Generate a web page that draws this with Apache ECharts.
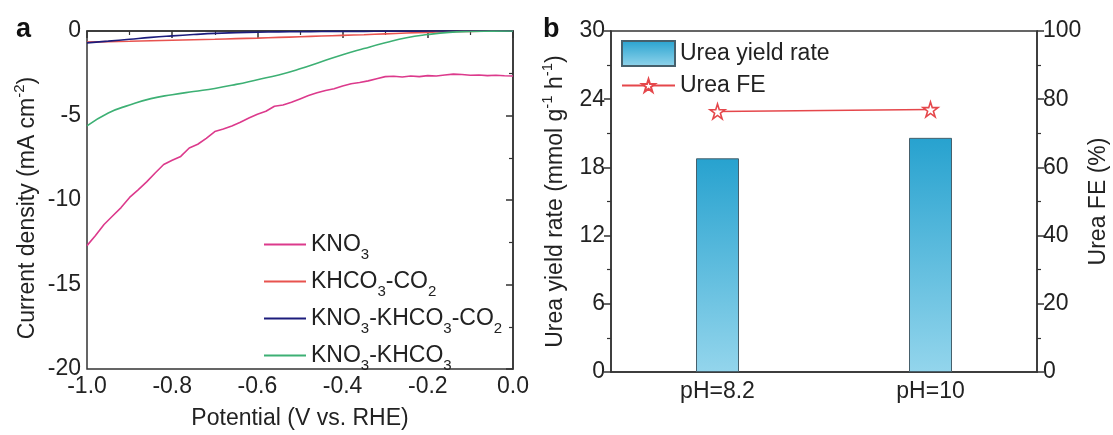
<!DOCTYPE html>
<html><head><meta charset="utf-8">
<script src="https://cdn.jsdelivr.net/npm/echarts@6/dist/echarts.min.js"></script>
<style>html,body{margin:0;padding:0;background:#fff}#c{width:1113px;height:435px}</style>
</head><body><div id="c"></div>
<script>
// ---- Panel a data ----
const potential = [-1.00,-0.98,-0.96,-0.94,-0.92,-0.90,-0.88,-0.86,-0.84,-0.82,-0.80,-0.78,-0.76,-0.74,-0.72,-0.70,-0.68,-0.66,-0.64,-0.62,-0.60,-0.58,-0.56,-0.54,-0.52,-0.50,-0.48,-0.46,-0.44,-0.42,-0.40,-0.38,-0.36,-0.34,-0.32,-0.30,-0.28,-0.26,-0.24,-0.22,-0.20,-0.18,-0.16,-0.14,-0.12,-0.10,-0.08,-0.06,-0.04,-0.02,0.00];
const kno3 = [-12.7,-12.1,-11.45,-10.95,-10.45,-9.85,-9.4,-8.93,-8.4,-7.9,-7.65,-7.42,-6.92,-6.7,-6.35,-5.95,-5.8,-5.62,-5.4,-5.15,-4.92,-4.75,-4.45,-4.38,-4.22,-4.02,-3.82,-3.66,-3.52,-3.42,-3.25,-3.12,-3.05,-2.95,-2.82,-2.7,-2.68,-2.72,-2.66,-2.7,-2.64,-2.66,-2.6,-2.55,-2.57,-2.62,-2.6,-2.64,-2.62,-2.65,-2.66];
const potentialCoarse = [-1.00,-0.95,-0.90,-0.85,-0.80,-0.75,-0.70,-0.65,-0.60,-0.55,-0.50,-0.45,-0.40,-0.35,-0.30,-0.25,-0.20,-0.15,-0.10,-0.05,0.00];
const khco3co2 = [-0.66,-0.63,-0.61,-0.58,-0.55,-0.52,-0.49,-0.45,-0.42,-0.38,-0.34,-0.30,-0.26,-0.22,-0.17,-0.12,-0.08,-0.04,-0.02,-0.01,0];
const kno3khco3co2 = [-0.70,-0.60,-0.49,-0.38,-0.29,-0.21,-0.14,-0.10,-0.07,-0.05,-0.04,-0.03,-0.02,-0.02,-0.01,-0.01,0,0,0,0,0];
const kno3khco3 = [-5.62,-4.85,-4.38,-4.0,-3.77,-3.58,-3.4,-3.16,-2.88,-2.6,-2.24,-1.82,-1.4,-1.04,-0.7,-0.4,-0.21,-0.08,-0.03,-0.01,0];
const seriesNamesA = ['KNO3','KHCO3-CO2','KNO3-KHCO3-CO2','KNO3-KHCO3'];

// ---- Panel b data ----
const phCategories = ['pH=8.2','pH=10'];
const ureaYield = [18.8, 20.6];
const ureaFE = [76.4, 77.0];

const FONT = 'Liberation Sans, Arial, sans-serif';
const AX = '#333333';
const pair = (xs, ys) => xs.map((x, i) => [x, ys[i]]);
const star = 'path://M50,2 L61.8,37.9 L99.5,37.9 L69,60 L80.6,96 L50,73.8 L19.4,96 L31,60 L0.5,37.9 L38.2,37.9 Z';
const subFmt = n => n.replace(/(\d)/g, '{s|$1}');

const axisCommon = {
  axisLine: {show: true, lineStyle: {color: AX, width: 1.5}},
  axisTick: {show: true, length: 7, lineStyle: {color: AX, width: 1.5}},
  minorTick: {show: true, splitNumber: 2, length: 4, lineStyle: {color: AX, width: 1.2}},
  splitLine: {show: false},
  axisLabel: {color: '#222', fontSize: 23, fontFamily: FONT, margin: 6}
};

const chart = echarts.init(document.getElementById('c'), null, {renderer: 'canvas'});
chart.setOption({
  animation: false,
  textStyle: {fontFamily: FONT},
  graphic: [
    {type: 'text', left: 16, top: 16, style: {text: 'a', font: 'bold 27px ' + FONT, fill: '#111'}},
    {type: 'text', left: 543, top: 16, style: {text: 'b', font: 'bold 27px ' + FONT, fill: '#111'}}
  ],
  grid: [
    {left: 87, top: 31, width: 426, height: 341, show: true, borderColor: AX, borderWidth: 1.5, backgroundColor: 'transparent'},
    {left: 611, top: 31, width: 426, height: 341, show: true, borderColor: AX, borderWidth: 1.5, backgroundColor: 'transparent'}
  ],
  legend: [
    {
      data: seriesNamesA, orient: 'vertical', left: 259, top: 228, itemGap: 8,
      itemWidth: 42, itemHeight: 2, icon: 'rect',
      formatter: subFmt,
      textStyle: {fontSize: 23, color: '#222', fontFamily: FONT,
        rich: {s: {fontSize: 15, fontFamily: FONT, color: '#222', padding: [20, 0, 0, 0]}}}
    },
    {
      data: ['Urea yield rate'], left: 616, top: 35, itemWidth: 53, itemHeight: 25, icon: 'rect',
      textStyle: {fontSize: 23, color: '#222', fontFamily: FONT}
    },
    {
      data: ['Urea FE'], left: 616, top: 69, itemWidth: 53, itemHeight: 16,
      textStyle: {fontSize: 23, color: '#222', fontFamily: FONT}
    }
  ],
  xAxis: [
    Object.assign({}, axisCommon, {
      type: 'value', gridIndex: 0, min: -1, max: 0, interval: 0.2,
      axisLabel: Object.assign({}, axisCommon.axisLabel, {formatter: v => v.toFixed(1)}),
      name: 'Potential (V vs. RHE)', nameLocation: 'middle', nameGap: 38,
      nameTextStyle: {fontSize: 23, color: '#222', fontFamily: FONT}
    }),
    Object.assign({}, axisCommon, {
      type: 'category', gridIndex: 1, data: phCategories,
      axisTick: {show: false}, minorTick: {show: false},
      axisLabel: Object.assign({}, axisCommon.axisLabel, {margin: 8})
    })
  ],
  yAxis: [
    Object.assign({}, axisCommon, {
      type: 'value', gridIndex: 0, min: -20, max: 0, interval: 5,
      name: 'Current density (mA cm{sup|-2})', nameLocation: 'middle', nameGap: 44, nameRotate: 90,
      nameTextStyle: {fontSize: 23, color: '#222', fontFamily: FONT, padding: [0, 16, 0, 0],
        rich: {sup: {fontSize: 15, fontFamily: FONT, color: '#222', padding: [0, 0, 16, 0]}}}
    }),
    Object.assign({}, axisCommon, {
      type: 'value', gridIndex: 1, min: 0, max: 30, interval: 6, position: 'left',
      name: 'Urea yield rate (mmol g{sup|-1} h{sup|-1})', nameLocation: 'middle', nameGap: 40, nameRotate: 90,
      nameTextStyle: {fontSize: 23, color: '#222', fontFamily: FONT,
        rich: {sup: {fontSize: 15, fontFamily: FONT, color: '#222', padding: [0, 0, 16, 0]}}}
    }),
    Object.assign({}, axisCommon, {
      type: 'value', gridIndex: 1, min: 0, max: 100, interval: 20, position: 'right',
      name: 'Urea FE (%)', nameLocation: 'middle', nameGap: 50, nameRotate: 90,
      nameTextStyle: {fontSize: 23, color: '#222', fontFamily: FONT}
    })
  ],
  series: [
    {name: 'KNO3', type: 'line', xAxisIndex: 0, yAxisIndex: 0, data: pair(potential, kno3),
      showSymbol: false, symbol: 'none', lineStyle: {color: '#dc3a8c', width: 1.6}, itemStyle: {color: '#dc3a8c'}},
    {name: 'KHCO3-CO2', type: 'line', xAxisIndex: 0, yAxisIndex: 0, data: pair(potentialCoarse, khco3co2),
      showSymbol: false, symbol: 'none', smooth: true, lineStyle: {color: '#e8534f', width: 1.6}, itemStyle: {color: '#e8534f'}},
    {name: 'KNO3-KHCO3-CO2', type: 'line', xAxisIndex: 0, yAxisIndex: 0, data: pair(potentialCoarse, kno3khco3co2),
      showSymbol: false, symbol: 'none', smooth: true, lineStyle: {color: '#1c1c7c', width: 1.6}, itemStyle: {color: '#1c1c7c'}},
    {name: 'KNO3-KHCO3', type: 'line', xAxisIndex: 0, yAxisIndex: 0, data: pair(potentialCoarse, kno3khco3),
      showSymbol: false, symbol: 'none', smooth: true, lineStyle: {color: '#3db074', width: 1.6}, itemStyle: {color: '#3db074'}},
    {name: 'Urea yield rate', type: 'bar', xAxisIndex: 1, yAxisIndex: 1, data: ureaYield, barWidth: 43,
      itemStyle: {
        color: new echarts.graphic.LinearGradient(0, 0, 0, 1, [
          {offset: 0, color: '#27a2cf'}, {offset: 1, color: '#93d5ec'}]),
        borderColor: '#46606c', borderWidth: 1
      }},
    {name: 'Urea FE', type: 'line', xAxisIndex: 1, yAxisIndex: 2, data: ureaFE,
      symbol: star, symbolSize: 15, showSymbol: true,
      lineStyle: {color: '#e5474b', width: 1.6},
      itemStyle: {color: '#ffffff', borderColor: '#e5474b', borderWidth: 1.6}, z: 5}
  ]
});
</script></body></html>
